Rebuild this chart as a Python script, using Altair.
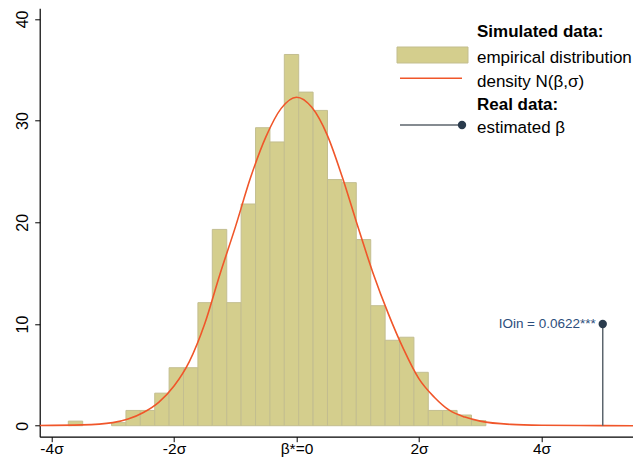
import altair as alt
import pandas as pd

# ---- histogram (x in sigma units) ----
bin_start = [-3.726, -3.020, -2.785, -2.550, -2.315, -2.080, -1.845, -1.610, -1.375,
             -1.139, -0.904, -0.669, -0.434, -0.199, 0.036, 0.271, 0.506, 0.741,
             0.976, 1.212, 1.447, 1.682, 1.917, 2.152, 2.387, 2.622, 2.857]
bin_end = [-3.491, -2.785, -2.550, -2.315, -2.080, -1.845, -1.610, -1.375, -1.139,
           -0.904, -0.669, -0.434, -0.199, 0.036, 0.271, 0.506, 0.741, 0.976,
           1.212, 1.447, 1.682, 1.917, 2.152, 2.387, 2.622, 2.857, 3.092]
bin_height = [0.45, 0.3, 1.5, 1.5, 3.2, 5.7, 5.7, 12.1, 19.3,
              12.1, 21.8, 29.3, 27.9, 36.5, 32.8, 31.0, 24.2, 23.9,
              18.3, 11.8, 8.4, 8.7, 5.25, 1.5, 1.5, 1.05, 0.5]

# ---- density curve ----
curve_x = [-4.2, -3.5, -3.0, -2.75, -2.5, -2.25, -2.0, -1.75, -1.5, -1.25, -1.0,
           -0.75, -0.5, -0.25, 0.0, 0.25, 0.5, 0.75, 1.0, 1.25, 1.5, 1.75, 2.0,
           2.25, 2.5, 2.75, 3.0, 3.5, 4.0, 5.0, 5.7]
curve_y = [0.02, 0.08, 0.3, 0.65, 1.3, 2.3, 3.9, 6.3, 10.0, 14.9, 19.5,
           24.4, 28.4, 31.2, 32.3, 31.3, 28.6, 24.4, 19.6, 15.0, 11.0, 7.5, 4.6,
           2.8, 1.5, 0.85, 0.45, 0.13, 0.05, 0.01, 0.0]

# ---- real-data estimate ----
est_x = [5.0]
est_y = [10.0]
est_label = ["IOin = 0.0622***"]

tick_values = [-4, -2, 0, 2, 4]
tick_labels = ["-4σ", "-2σ", "β*=0", "2σ", "4σ"]
y_ticks = [0, 10, 20, 30, 40]

legend_labels = ["Simulated data:", "empirical distribution", "density N(β,σ)",
                 "Real data:", "estimated β"]
legend_bold = [True, False, False, True, False]

FONT = "Liberation Sans"
BAR_FILL = "#d4ce8d"
BAR_STROKE = "#c3be90"
CURVE = "#f0562a"
STEM = "#5c656d"
DOT = "#2a3b4d"

bars_df = pd.DataFrame({"x0": bin_start, "x1": bin_end, "h": bin_height,
                        "z": [0.0] * len(bin_height)})
curve_df = pd.DataFrame({"x": curve_x, "y": curve_y})
est_df = pd.DataFrame({"x": est_x, "y": est_y, "z": [0.0], "label": est_label})

xscale = alt.Scale(domain=[-4.193, 5.494], nice=False, zero=False)
yscale = alt.Scale(domain=[-1.08, 41.04], nice=False, zero=False)

label_expr = " : ".join(
    [f"datum.value == {v} ? '{t}'" for v, t in zip(tick_values, tick_labels)]
) + " : ''"

xaxis = alt.Axis(values=tick_values, labelExpr=label_expr, title=None, grid=False,
                 tickSize=5, tickColor="black", domainColor="black", domainWidth=1.2,
                 labelColor="black", labelFontSize=15.5, labelFont=FONT, labelPadding=0)
yaxis = alt.Axis(values=y_ticks, title=None, grid=False, tickSize=5, tickColor="black",
                 domainColor="black", domainWidth=1.2, labelColor="black",
                 labelFontSize=16, labelFont=FONT, labelAngle=270, labelAlign="center",
                 labelBaseline="alphabetic", labelPadding=7)

bars = alt.Chart(bars_df).mark_rect(fill=BAR_FILL, stroke=BAR_STROKE, strokeWidth=1).encode(
    x=alt.X("x0:Q", scale=xscale, axis=xaxis),
    x2="x1:Q",
    y=alt.Y("h:Q", scale=yscale, axis=yaxis),
    y2="z:Q",
)

curve = alt.Chart(curve_df).mark_line(color=CURVE, strokeWidth=1.6, interpolate="monotone",
                                      clip=True).encode(
    x=alt.X("x:Q", scale=xscale), y=alt.Y("y:Q", scale=yscale))

stem = alt.Chart(est_df).mark_rule(color=STEM, strokeWidth=1.5).encode(
    x=alt.X("x:Q", scale=xscale), y=alt.Y("y:Q", scale=yscale), y2="z:Q")
dot = alt.Chart(est_df).mark_circle(color=DOT, opacity=1, size=70).encode(
    x=alt.X("x:Q", scale=xscale), y=alt.Y("y:Q", scale=yscale))
est_text = alt.Chart(est_df).mark_text(align="right", baseline="middle", dx=-7, dy=0,
                                       font=FONT, fontSize=13.5, color="#2c4e7c").encode(
    x=alt.X("x:Q", scale=xscale), y=alt.Y("y:Q", scale=yscale), text="label:N")

# ---- hand-built legend (pixel positions inside the plot area) ----
one = pd.DataFrame({"a": [0]})
leg_x_text = 437.3
leg_y = [28.4, 54.5, 78.5, 101.7, 125.0]
legend_layers = []
for lab, b, yy in zip(legend_labels, legend_bold, leg_y):
    legend_layers.append(
        alt.Chart(one).mark_text(align="left", baseline="alphabetic", font=FONT,
                                 fontSize=17, fontWeight="bold" if b else "normal",
                                 color="black", text=lab).encode(
            x=alt.value(leg_x_text), y=alt.value(yy)))
leg_rect = alt.Chart(one).mark_rect(fill=BAR_FILL, stroke=BAR_STROKE, strokeWidth=1).encode(
    x=alt.value(357.3), x2=alt.value(428.3), y=alt.value(38.7), y2=alt.value(54.7))
leg_curve = alt.Chart(one).mark_rule(color=CURVE, strokeWidth=1.6).encode(
    x=alt.value(360.3), x2=alt.value(422.3), y=alt.value(70.0))
leg_stem = alt.Chart(one).mark_rule(color=STEM, strokeWidth=1.6).encode(
    x=alt.value(360.3), x2=alt.value(422.3), y=alt.value(116.7))
leg_dot = alt.Chart(one).mark_circle(color=DOT, opacity=1, size=70).encode(
    x=alt.value(422.3), y=alt.value(116.7))

chart = alt.layer(bars, curve, stem, dot, est_text, leg_rect, leg_curve, leg_stem, leg_dot,
                  *legend_layers).properties(
    width=593.3, height=428.4,
    autosize=alt.AutoSizeParams(type="none"),
    padding={"left": 31.7, "top": 0.3, "right": 0, "bottom": 23.2},
    background="white",
).configure_view(stroke=None)

chart.save("out.html", embed_options={"renderer": "svg", "actions": False})
